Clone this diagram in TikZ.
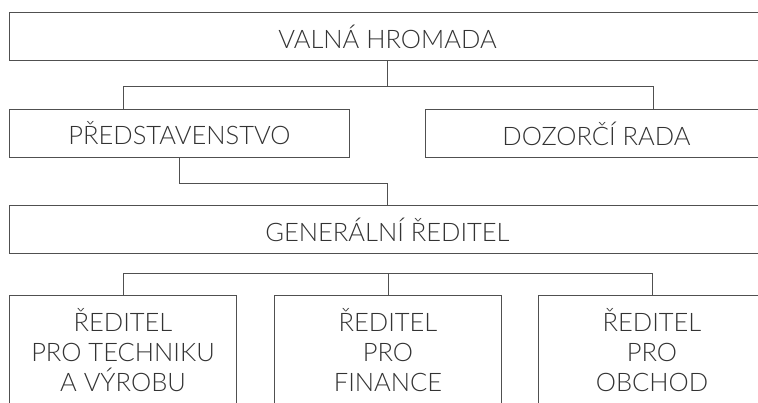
\documentclass[tikz,border=0pt]{standalone}
\usepackage{fontspec}
\setmainfont{Lato Light}
\definecolor{linec}{HTML}{505050}
\definecolor{textc}{HTML}{333333}
\begin{document}
\begin{tikzpicture}[x=1pt,y=-1pt,
  box/.style={draw=linec,line width=1pt,rectangle,inner sep=0pt,text=textc,
    font=\fontsize{25.5}{30}\selectfont,anchor=north west},
  conn/.style={draw=linec,line width=1pt}]
\useasboundingbox (0,0) rectangle (758,403);
\clip (0,0) rectangle (758,403);
\node[box,minimum width=756pt,minimum height=48pt] (top) at (9,12) {VALNÁ HROMADA};
\node[box,minimum width=340pt,minimum height=48pt] (pred) at (9,109) {PŘEDSTAVENSTVO};
\node[box,minimum width=342pt,minimum height=48pt] (dozor) at (425,109) {DOZORČÍ RADA};
\node[box,minimum width=756pt,minimum height=48pt] (gen) at (9,205) {GENERÁLNÍ ŘEDITEL};
\node[box,minimum width=227pt,minimum height=110pt,align=center] (r1) at (9,295) {ŘEDITEL\\PRO TECHNIKU\\A VÝROBU};
\node[box,minimum width=227pt,minimum height=110pt,align=center] (r2) at (274,295) {ŘEDITEL\\PRO\\FINANCE};
\node[box,minimum width=227pt,minimum height=110pt,align=center] (r3) at (538,295) {ŘEDITEL\\PRO\\OBCHOD};
\coordinate (bL) at (123,87);
\coordinate (bR) at (653,87);
\draw[conn] (top.south) -- (top.south |- bL);
\draw[conn] (bL |- pred.north) -- (bL) -- (bR) -- (bR |- dozor.north);
\draw[conn] (pred.south) -- ++(0,26) -| (gen.north);
\draw[conn] (r1.north) -- ++(0,-21) -| (r3.north);
\draw[conn] (r2.north) -- ++(0,-21);
\end{tikzpicture}
\end{document}
